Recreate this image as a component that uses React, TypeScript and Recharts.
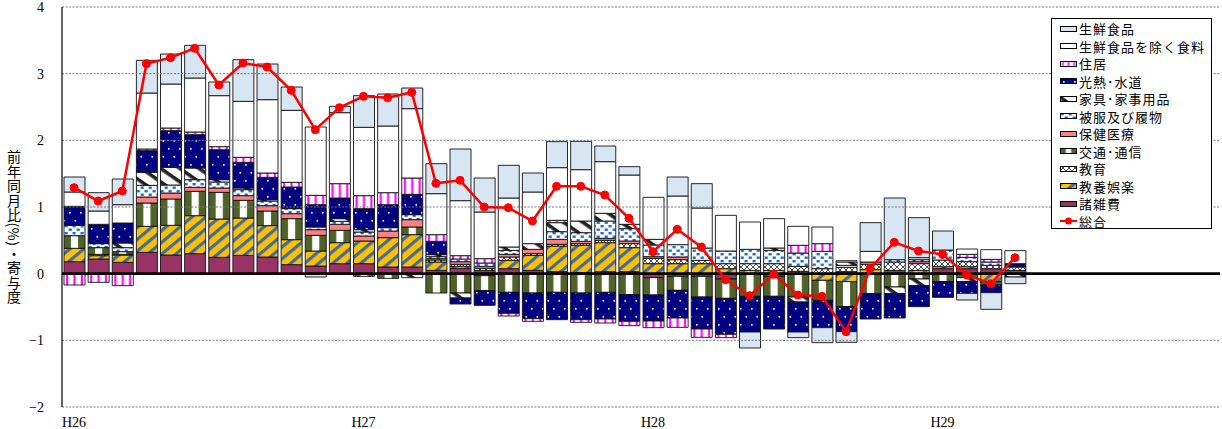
import React from 'react';
import { ComposedChart, Bar, Line, XAxis, YAxis, ReferenceLine } from 'recharts';

const months: string[] = [
  'H26.1','H26.2','H26.3','H26.4','H26.5','H26.6','H26.7','H26.8','H26.9','H26.10','H26.11','H26.12',
  'H27.1','H27.2','H27.3','H27.4','H27.5','H27.6','H27.7','H27.8','H27.9','H27.10','H27.11','H27.12',
  'H28.1','H28.2','H28.3','H28.4','H28.5','H28.6','H28.7','H28.8','H28.9','H28.10','H28.11','H28.12',
  'H29.1','H29.2','H29.3','H29.4','H29.5','H29.6','H29.7','H29.8','H29.9','H29.10','H29.11','H29.12',
];

// 生鮮食品
const seisen = [0.225,0.275,0.385,0.49,0.45,0.49,0.205,0.625,0.535,0.35,-0.05,0.095,0.475,0.48,0.31,0.45,0.775,0.51,0.49,0.285,0.39,0.425,0.235,0.125,0,0.285,0.365,0,-0.24,0,-0.085,-0.225,-0.16,0.43,0.925,0.6,0.285,-0.1,-0.25,-0.1];
// 生鮮食品を除く食料
const shokuryo = [0.215,0.2,0.275,0.84,0.66,0.81,0.765,0.84,1.1,1.08,1.025,1.065,1.025,1.0,1.04,0.615,0.825,0.7,0.735,0.775,0.79,0.77,0.775,0.74,0.63,0.73,0.6,0.535,0.41,0.44,0.285,0.25,0.02,0.16,0,0.03,0,0.08,0.145,0.195];
// 住居
const jukyo = [-0.17,-0.13,-0.18,0.025,0.04,0.04,0.045,0.075,0.065,0.07,0.14,0.215,0.195,0.18,0.245,0.1,0.05,0.065,-0.04,-0.04,0.035,-0.04,-0.06,-0.065,-0.1,-0.14,-0.125,-0.05,0,0,0.115,0.115,0,0,0,0,0,0.045,0.04,0];
// 光熱・水道
const kounetsu = [0.285,0.29,0.3,0.325,0.55,0.5,0.45,0.385,0.335,0.315,0.335,0.31,0.315,0.345,0.305,0.2,-0.09,-0.22,-0.315,-0.385,-0.41,-0.4,-0.4,-0.4,-0.39,-0.415,-0.48,-0.54,-0.535,-0.49,-0.45,-0.41,-0.375,-0.38,-0.365,-0.315,-0.235,-0.175,-0.115,0.05];
// 家具・家事用品
const kagu = [0,0,0.07,0.195,0.265,0.175,0.035,0.025,0.02,0.01,0,0.04,0.035,0,-0.06,0.03,-0.075,0,0.05,0.085,0.135,0.175,0.115,0.065,0.085,0,0,0,0,0.035,-0.075,0,0.05,0,-0.1,-0.1,0,-0.06,0,-0.05];
// 被服及び履物
const hifuku = [0.155,0.06,0.06,0.175,0.12,0.115,0.09,0.09,0.07,0.075,0.04,0.045,0.06,0.05,0.075,0.03,0.04,0.05,0.06,0,0.115,0.13,0.26,0.185,0.175,0.185,0.185,0.19,0.215,0.2,0.2,0.26,0.03,0,0.035,0.03,0.15,0.065,0.05,0];
// 保健医療
const hoken = [0,0,0,0.09,0.09,0.06,0.065,0.07,0.08,0.075,0.085,0.09,0.075,0.1,0.11,0.02,0.04,0.03,0.04,0.065,0.075,0.035,0.03,0.04,0.025,0.04,0,0,0,0,0,0,0,0.035,0,0.03,0,0,0,0];
// 交通・通信
const koutsu = [0.19,0.1,0.04,0.35,0.395,0.365,0.4,0.265,0.22,0.315,0.235,0.185,-0.04,-0.07,0.115,-0.29,-0.29,-0.225,-0.28,-0.29,-0.28,-0.29,-0.28,-0.315,-0.26,-0.21,-0.31,-0.29,-0.34,-0.3,-0.35,-0.3,-0.375,-0.3,-0.2,-0.08,-0.12,-0.06,-0.05,0];
// 教育
const kyouiku = [0,0.02,0.01,0,0,0,0,0,0,0,0,0,0,0,0,0.03,0.03,0.03,0.05,0.025,0.025,0.025,0.035,0.06,0.08,0.06,0.05,0.075,0.1,0.1,0.075,0.075,0.065,0.08,0.125,0.1,0.1,0.075,0.05,0.05];
// 教養娯楽
const kyouyou = [0.2,0.05,0.11,0.39,0.445,0.57,0.575,0.56,0.47,0.375,0.225,0.315,0.34,0.44,0.485,0.125,0.03,-0.03,0.125,0.225,0.385,0.41,0.435,0.36,0.15,0.15,0.15,0.075,0.05,0.05,0.035,-0.1,-0.12,0.06,0,0.05,0.03,0.03,-0.12,0];
// 諸雑費
const shozappi = [0.18,0.22,0.17,0.32,0.28,0.3,0.245,0.275,0.25,0.135,0.115,0.15,0.15,0.1,0.1,0.05,0.08,0.05,0.075,0.05,0.03,0.015,0.03,0.03,-0.06,-0.04,-0.04,-0.08,0,-0.04,0,0,0.03,0,0.05,0,0.075,0.075,0.075,0.05];
// 総合
const sougou = [1.29,1.09,1.24,3.15,3.24,3.38,2.83,3.16,3.1,2.75,2.16,2.49,2.66,2.64,2.72,1.355,1.4,1.0,0.99,0.79,1.31,1.31,1.18,0.83,0.33,0.665,0.4,-0.09,-0.33,-0.01,-0.32,-0.34,-0.87,0.08,0.47,0.34,0.29,-0.02,-0.15,0.24];

const yTicks = [-2, -1, 0, 1, 2, 3, 4];
const gridValues = [4, 3, 2, 1, -1, -2];

const data = months.map((m, i) => ({
  month: m,
  seisen: seisen[i],
  shokuryo: shokuryo[i],
  jukyo: jukyo[i],
  kounetsu: kounetsu[i],
  kagu: kagu[i],
  hifuku: hifuku[i],
  hoken: hoken[i],
  koutsu: koutsu[i],
  kyouiku: kyouiku[i],
  kyouyou: kyouyou[i],
  shozappi: shozappi[i],
  sougou: sougou[i],
}));

// stacking order from the zero line outward
const SERIES = [
  { key: 'shozappi', name: '諸雑費', fill: '#993366' },
  { key: 'kyouyou', name: '教養娯楽', fill: 'url(#pYellow)' },
  { key: 'kyouiku', name: '教育', fill: 'url(#pEdu)' },
  { key: 'koutsu', name: '交通･通信', fill: 'url(#pOlive)' },
  { key: 'hoken', name: '保健医療', fill: '#ff8080' },
  { key: 'hifuku', name: '被服及び履物', fill: 'url(#pBlue)' },
  { key: 'kagu', name: '家具･家事用品', fill: 'url(#pKagu)' },
  { key: 'kounetsu', name: '光熱･水道', fill: 'url(#pNavy)' },
  { key: 'jukyo', name: '住居', fill: 'url(#pMagenta)' },
  { key: 'shokuryo', name: '生鮮食品を除く食料', fill: '#ffffff' },
  { key: 'seisen', name: '生鮮食品', fill: '#d8e5f3' },
];

const JP = '"Noto Sans CJK JP", "Noto Sans", sans-serif';
const SERIF = '"Liberation Serif", "DejaVu Serif", serif';

const Patterns = () => (
  <svg width={0} height={0} style={{ position: 'absolute' }}>
    <defs>
      <pattern id="pNavy" width={11} height={16} patternUnits="userSpaceOnUse">
        <rect width={11} height={16} fill="#000080" />
        <rect x={3} y={4} width={1.6} height={1.6} fill="#ffffff" />
        <rect x={8.5} y={12} width={1.6} height={1.6} fill="#ffffff" />
      </pattern>
      <pattern id="pKagu" width={11} height={11} patternUnits="userSpaceOnUse" patternTransform="rotate(35)">
        <rect width={11} height={11} fill="#ffffff" />
        <rect y={0} width={11} height={3.6} fill="#222222" />
      </pattern>
      <pattern id="pBlue" width={8} height={7} patternUnits="userSpaceOnUse">
        <rect width={8} height={7} fill="#ffffff" />
        <rect x={0.5} y={1} width={3.2} height={2.4} fill="#1f6fd1" />
        <rect x={4.6} y={4.5} width={3.2} height={2.4} fill="#1f6fd1" />
      </pattern>
      <pattern id="pOlive" width={1} height={1} patternUnits="objectBoundingBox" patternContentUnits="objectBoundingBox">
        <rect width={1} height={1} fill="#ffffff" />
        <rect x={0} width={0.33} height={1} fill="#4f6228" />
        <rect x={0.67} width={0.33} height={1} fill="#4f6228" />
      </pattern>
      <pattern id="pMagenta" width={1} height={1} patternUnits="objectBoundingBox" patternContentUnits="objectBoundingBox">
        <rect width={1} height={1} fill="#ffffff" />
        <rect x={0.1} width={0.1} height={1} fill="#ff00ff" />
        <rect x={0.45} width={0.1} height={1} fill="#ff00ff" />
        <rect x={0.8} width={0.1} height={1} fill="#ff00ff" />
      </pattern>
      <pattern id="pEdu" width={6} height={6} patternUnits="userSpaceOnUse">
        <rect width={6} height={6} fill="#ffffff" />
        <path d="M0,0 L3,3 L6,0 M0,6 L3,3 L6,6" stroke="#222" strokeWidth={0.8} fill="none" />
      </pattern>
      <pattern id="pYellow" width={10} height={9} patternUnits="userSpaceOnUse" patternTransform="rotate(-40)">
        <rect width={10} height={9} fill="#ffc000" />
        <rect y={0} width={10} height={3.2} fill="#3f6d9e" />
      </pattern>
    </defs>
  </svg>
);

const legendItems = [...SERIES].reverse();

const LegendBox = () => (
  <div
    style={{
      position: 'absolute',
      left: 1051,
      top: 18,
      border: '1px solid #000',
      background: '#fff',
      width: 161,
      height: 211,
      boxSizing: 'border-box',
      padding: '1px 0 0 8px',
      fontFamily: JP,
      fontSize: 13,
      color: '#000',
      textAlign: 'left',
      lineHeight: 1,
    }}
  >
    {legendItems.map((it) => (
      <div key={it.key} style={{ height: 17.5, display: 'flex', alignItems: 'center', whiteSpace: 'nowrap' }}>
        <svg width={18} height={8} style={{ marginRight: 1 }}>
          <rect x={0.5} y={1.5} width={16} height={5} fill={it.fill} stroke="#000" strokeWidth={1} />
        </svg>
        <span style={{ letterSpacing: 1 }}>{it.name}</span>
      </div>
    ))}
    <div style={{ height: 17.5, display: 'flex', alignItems: 'center', whiteSpace: 'nowrap' }}>
      <svg width={18} height={10} style={{ marginRight: 1 }}>
        <line x1={0} y1={5} x2={17} y2={5} stroke="#ff0000" strokeWidth={2} />
        <circle cx={8.5} cy={5} r={3.5} fill="#ff0000" />
      </svg>
      <span style={{ letterSpacing: 1 }}>総合</span>
    </div>
  </div>
);

const fmtY = (v: number) => (v < 0 ? `−${Math.abs(v)}` : `${v}`);
const fmtX = (v: string) => v.split('.')[0];

export default function App() {
  return (
    <div style={{ position: 'absolute', left: 0, top: 0, width: 1222, height: 429, background: '#fff' }}>
      <Patterns />
      <ComposedChart
        width={1222}
        height={429}
        data={data}
        stackOffset="sign"
        margin={{ top: 7, right: 2, bottom: 0, left: 0 }}
        barCategoryGap={3}
      >
        <XAxis
          dataKey="month"
          interval={11}
          tickFormatter={fmtX}
          axisLine={false}
          tickLine={false}
          height={22}
          tickMargin={4}
          tick={{ fontFamily: SERIF, fontSize: 14, fill: '#000' }}
        />
        <YAxis
          domain={[-2, 4]}
          ticks={yTicks}
          tickFormatter={fmtY}
          width={62}
          axisLine={{ stroke: '#000', strokeWidth: 1.2 }}
          tickLine={false}
          tickMargin={12}
          interval={0}
          tick={{ fontFamily: SERIF, fontSize: 14, fill: '#000' }}
        />
        {gridValues.map((v) => (
          <ReferenceLine key={v} y={v} stroke="#777" strokeDasharray="2 1.5" strokeWidth={1} />
        ))}
        {SERIES.map((s) => (
          <Bar
            key={s.key}
            dataKey={s.key}
            name={s.name}
            stackId="a"
            fill={s.fill}
            stroke="#111"
            strokeWidth={0.9}
            barSize={21}
            isAnimationActive={false}
          />
        ))}
        <ReferenceLine y={0} stroke="#000" strokeWidth={2.6} />
        <Line
          dataKey="sougou"
          name="総合"
          stroke="#ff0000"
          strokeWidth={2.5}
          dot={{ r: 4, fill: '#ff0000', stroke: '#ff0000', strokeWidth: 1 }}
          isAnimationActive={false}
        />
      </ComposedChart>
      <LegendBox />
      <div
        style={{
          position: 'absolute',
          left: 7,
          top: 150,
          writingMode: 'vertical-rl',
          fontFamily: JP,
          fontSize: 14,
          letterSpacing: 0.5,
          color: '#000',
          lineHeight: 1,
        }}
      >
        前年同月比(%)・寄与度
      </div>
    </div>
  );
}
